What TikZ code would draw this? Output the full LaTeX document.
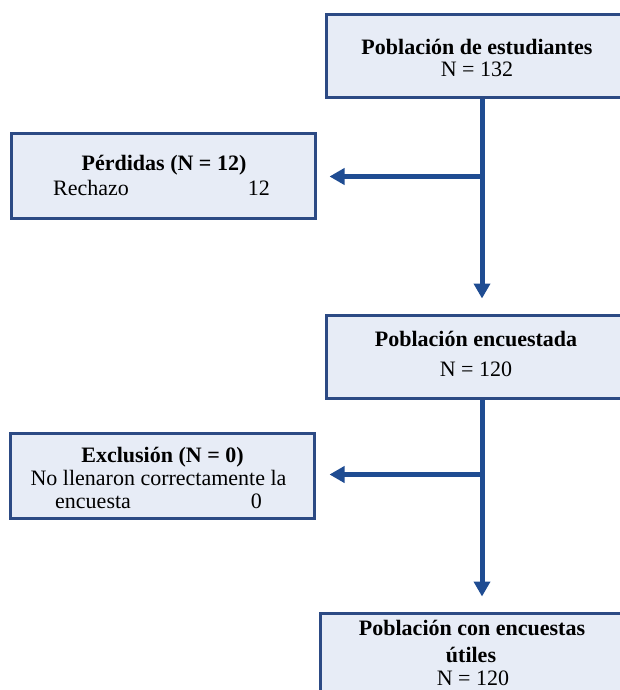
\documentclass[tikz,border=0pt]{standalone}
\usepackage{fontspec}
\setmainfont{Liberation Serif}
\usetikzlibrary{arrows.meta,calc}
\definecolor{boxline}{RGB}{44,74,132}
\definecolor{boxfill}{RGB}{231,236,246}
\definecolor{arrowc}{RGB}{31,76,146}
\begin{document}
\begin{tikzpicture}[x=1pt,y=-1pt,
  flowbox/.style={draw=boxline,fill=boxfill,line width=3pt,rectangle,inner sep=0pt},
  txt/.style={anchor=base,inner sep=0pt,font=\fontsize{22}{22}\selectfont},
  txtl/.style={anchor=base west,inner sep=0pt,font=\fontsize{22}{22}\selectfont},
  txtr/.style={anchor=base east,inner sep=0pt,font=\fontsize{22}{22}\selectfont},
  flow/.style={draw=arrowc,line width=5pt,-{Triangle[length=15pt,width=16pt]}}]
\useasboundingbox (0,0) rectangle (620,690);
\clip (0,0) rectangle (620,690);
% boxes
\node[flowbox,minimum width=304pt,minimum height=83pt] (b1) at (478,56.5) {};
\node[flowbox,minimum width=304pt,minimum height=85pt] (b2) at (163,175.5) {};
\node[flowbox,minimum width=304pt,minimum height=83pt] (b3) at (478,356.5) {};
\node[flowbox,minimum width=304pt,minimum height=85pt] (b4) at (162,475.5) {};
\node[flowbox,minimum width=306pt,minimum height=100pt] (b5) at (473,663) {};
% texts
\node[txt] (t1a) at (477,55) {\textbf{Población de estudiantes}};
\node[txt] (t1b) at (477,77) {N = 132};
\node[txt] (t2a) at (164,170) {\textbf{Pérdidas (N = 12)}};
\node[txtl] (t2b) at (53,195) {Rechazo};
\node[txtr] (t2c) at (270,195) {12};
\node[txt] (t3a) at (476,346) {\textbf{Población encuestada}};
\node[txt] (t3b) at (476,376) {N = 120};
\node[txt] (t4a) at (162.5,462) {\textbf{Exclusión (N = 0)}};
\node[txt] (t4b) at (158.5,485) {No llenaron correctamente la};
\node[txtl] (t4c) at (55,508) {encuesta};
\node[txtr] (t4d) at (262,508) {0};
\node[txt] (t5a) at (472,635) {\textbf{Población con encuestas}};
\node[txt] (t5b) at (471,662) {\textbf{útiles}};
\node[txt] (t5c) at (473,685) {N = 120};
% junctions
\coordinate (j1) at (482,176.5);
\coordinate (j2) at (482,474.5);
% connectors
\draw[flow] (b1.south -| j1) -- ($(b3.north -| j1)+(0,15pt)$);
\draw[flow] (j1) -- ($(b2.east |- j1)+(13pt,0)$);
\draw[flow] (b3.south -| j2) -- ($(b5.north -| j2)+(0,15pt)$);
\draw[flow] (j2) -- ($(b4.east |- j2)+(14pt,0)$);
\end{tikzpicture}
\end{document}
